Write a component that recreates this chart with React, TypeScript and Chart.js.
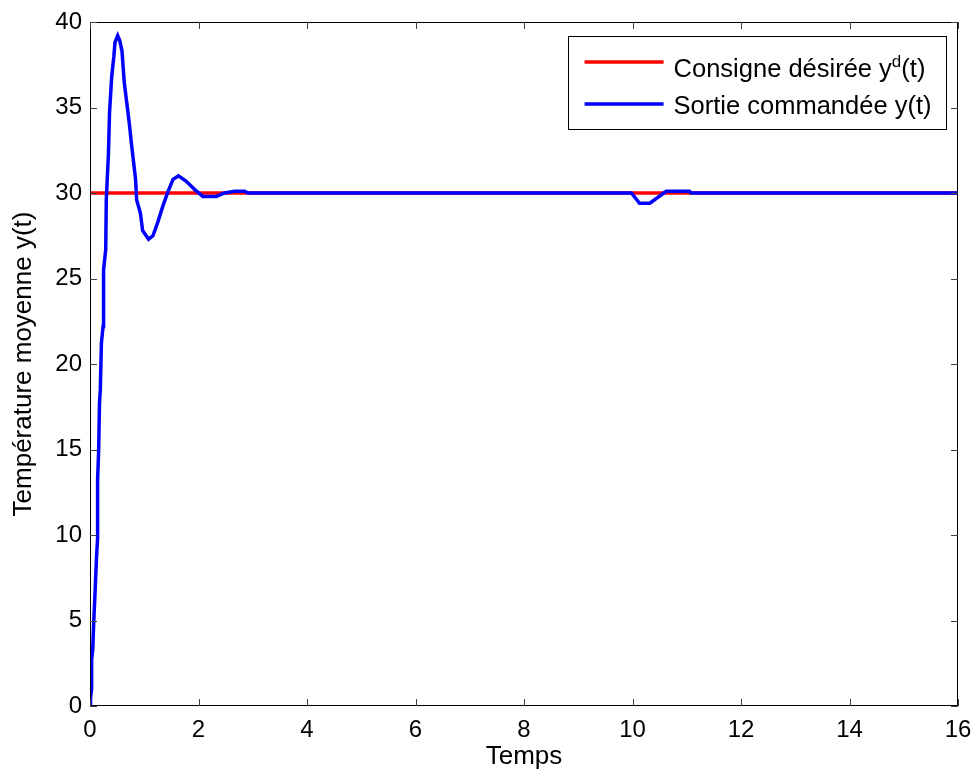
import React, { useEffect, useRef } from 'react';
import { Chart, registerables } from 'chart.js';

Chart.register(...registerables);

// ---- Data ----
const refTime = [0, 16];
const refValue = [30, 30];

const outTime = [
  0, 0.01, 0.03, 0.03, 0.05, 0.07, 0.09, 0.12, 0.14, 0.14, 0.16, 0.175, 0.19, 0.21, 0.24, 0.25,
  0.27, 0.29, 0.30, 0.34, 0.36, 0.40, 0.44, 0.46, 0.51, 0.55, 0.59, 0.63, 0.72, 0.77, 0.80,
  0.84, 0.86, 0.93, 0.97, 1.08, 1.16, 1.25, 1.34, 1.44, 1.53, 1.63, 1.77, 1.93, 2.08, 2.33, 2.48,
  2.67, 2.85, 2.91, 9.98, 10.13, 10.32, 10.62, 11.05, 11.08, 16,
];
const outValue = [
  0, 0.5, 1.0, 2.7, 3.3, 5.0, 6.4, 8.7, 9.8, 13.2, 15.0, 17.7, 18.5, 21.2, 22.2, 25.5,
  26.1, 26.7, 29.6, 32.3, 34.7, 36.8, 38.0, 38.8, 39.2, 38.9, 38.3, 36.5, 34.2, 32.7, 31.9,
  30.8, 29.6, 28.8, 27.8, 27.3, 27.5, 28.3, 29.2, 30.1, 30.8, 31.0, 30.7, 30.2, 29.8, 29.8, 30.0,
  30.1, 30.1, 30.0, 30.0, 29.4, 29.4, 30.1, 30.1, 30.0, 30.0,
];

const xTickValues = [0, 2, 4, 6, 8, 10, 12, 14, 16];
const yTickValues = [0, 5, 10, 15, 20, 25, 30, 35, 40];

const legendMain = ['Consigne désirée y', 'Sortie commandée y(t)'];
const legendSup = ['d', ''];
const legendTail = ['(t)', ''];
const seriesColors = ['#ff0000', '#0000ff'];

const FONT = '"Liberation Sans", Arial, Helvetica, sans-serif';

const boxTicksPlugin = {
  id: 'boxTicks',
  afterDraw(chart: any) {
    const { ctx, chartArea } = chart;
    const { left, right, top, bottom } = chartArea;
    const xs = chart.scales.x;
    const ys = chart.scales.y;
    const len = 7;
    ctx.save();
    ctx.strokeStyle = '#000';
    ctx.lineWidth = 1;
    ctx.beginPath();
    ctx.rect(left + 0.5, top + 0.5, right - left - 1, bottom - top - 1);
    ctx.stroke();
    ctx.strokeStyle = '#404040';
    ctx.beginPath();
    xTickValues.forEach((v) => {
      const px = Math.round(xs.getPixelForValue(v)) + 0.5;
      ctx.moveTo(px, bottom);
      ctx.lineTo(px, bottom - len);
      ctx.moveTo(px, top);
      ctx.lineTo(px, top + len);
    });
    yTickValues.forEach((v) => {
      const py = Math.round(ys.getPixelForValue(v)) + 0.5;
      ctx.moveTo(left, py);
      ctx.lineTo(left + len, py);
      ctx.moveTo(right, py);
      ctx.lineTo(right - len, py);
    });
    ctx.stroke();
    ctx.restore();
  },
};

const legendPlugin = {
  id: 'matLegend',
  afterDraw(chart: any) {
    const { ctx, chartArea } = chart;
    const size = 25.5;
    const supSize = 17;
    ctx.save();
    ctx.font = `${size}px ${FONT}`;
    const widths = legendMain.map((t, i) => {
      let w = ctx.measureText(t).width;
      if (legendSup[i]) {
        ctx.font = `${supSize}px ${FONT}`;
        w += ctx.measureText(legendSup[i]).width;
        ctx.font = `${size}px ${FONT}`;
      }
      w += ctx.measureText(legendTail[i]).width;
      return w;
    });
    const maxW = Math.max(...widths);
    const lineStartOff = 16.5;
    const lineLen = 79;
    const gap = 10;
    const padRight = 15;
    const boxW = lineStartOff + lineLen + gap + maxW + padRight;
    const boxH = 92.5;
    const boxRight = chartArea.right - 11.5;
    const boxTop = chartArea.top + 14;
    const boxLeft = boxRight - boxW;
    ctx.fillStyle = '#fff';
    ctx.fillRect(boxLeft, boxTop, boxW, boxH);
    ctx.strokeStyle = '#000';
    ctx.lineWidth = 1;
    ctx.strokeRect(Math.round(boxLeft) + 0.5, Math.round(boxTop) + 0.5, Math.round(boxW), Math.round(boxH));
    const lineYs = [boxTop + 26, boxTop + 68];
    const baseYs = [boxTop + 41, boxTop + 77.5];
    legendMain.forEach((t, i) => {
      ctx.strokeStyle = seriesColors[i];
      ctx.lineWidth = 3.5;
      ctx.beginPath();
      ctx.moveTo(boxLeft + lineStartOff, lineYs[i]);
      ctx.lineTo(boxLeft + lineStartOff + lineLen, lineYs[i]);
      ctx.stroke();
      ctx.fillStyle = '#000';
      ctx.textBaseline = 'alphabetic';
      ctx.textAlign = 'left';
      let x = boxLeft + lineStartOff + lineLen + gap;
      ctx.font = `${size}px ${FONT}`;
      ctx.fillText(t, x, baseYs[i]);
      x += ctx.measureText(t).width;
      if (legendSup[i]) {
        ctx.font = `${supSize}px ${FONT}`;
        ctx.fillText(legendSup[i], x, baseYs[i] - 10);
        x += ctx.measureText(legendSup[i]).width;
        ctx.font = `${size}px ${FONT}`;
      }
      if (legendTail[i]) ctx.fillText(legendTail[i], x, baseYs[i]);
    });
    ctx.restore();
  },
};

export default function App() {
  const canvasRef = useRef<HTMLCanvasElement | null>(null);

  useEffect(() => {
    const canvas = canvasRef.current;
    if (!canvas) return;
    const chart = new Chart(canvas, {
      type: 'line',
      data: {
        datasets: [
          {
            label: legendMain[0] + legendSup[0] + legendTail[0],
            data: refTime.map((t, i) => ({ x: t, y: refValue[i] })),
            borderColor: seriesColors[0],
            backgroundColor: seriesColors[0],
            borderWidth: 3.5,
            pointRadius: 0,
            tension: 0,
            order: 1,
          },
          {
            label: legendMain[1],
            data: outTime.map((t, i) => ({ x: t, y: outValue[i] })),
            borderColor: seriesColors[1],
            backgroundColor: seriesColors[1],
            borderWidth: 3.5,
            pointRadius: 0,
            tension: 0,
            order: 0,
          },
        ],
      },
      options: {
        animation: false,
        responsive: true,
        maintainAspectRatio: false,
        layout: { padding: { left: 0, top: 22, right: 21, bottom: 0 } },
        plugins: {
          legend: { display: false },
          tooltip: { enabled: false },
        },
        scales: {
          x: {
            type: 'linear',
            min: 0,
            max: 16,
            afterFit: (s: any) => {
              s.height = 72;
              s.paddingLeft = 0;
              s.paddingRight = 0;
            },
            afterBuildTicks: (s: any) => {
              s.ticks = xTickValues.map((v) => ({ value: v }));
            },
            grid: { display: false, drawTicks: false },
            border: { display: false },
            ticks: {
              color: '#000',
              padding: 10,
              maxRotation: 0,
              font: { family: FONT, size: 24 },
            },
            title: {
              display: true,
              text: 'Temps',
              color: '#000',
              font: { family: FONT, size: 26 },
              padding: 6,
            },
          },
          y: {
            type: 'linear',
            min: 0,
            max: 40,
            afterFit: (s: any) => {
              s.width = 90;
              s.paddingTop = 0;
              s.paddingBottom = 0;
            },
            afterBuildTicks: (s: any) => {
              s.ticks = yTickValues.map((v) => ({ value: v }));
            },
            grid: { display: false, drawTicks: false },
            border: { display: false },
            ticks: {
              color: '#000',
              padding: 8,
              font: { family: FONT, size: 24 },
            },
            title: {
              display: true,
              text: 'Température moyenne y(t)',
              color: '#000',
              font: { family: FONT, size: 26 },
              padding: 8,
            },
          },
        },
      },
      plugins: [boxTicksPlugin, legendPlugin],
    });
    return () => chart.destroy();
  }, []);

  return (
    <div style={{ position: 'fixed', left: 0, top: 0, width: 979, height: 778, background: '#fff' }}>
      <canvas ref={canvasRef} />
    </div>
  );
}
